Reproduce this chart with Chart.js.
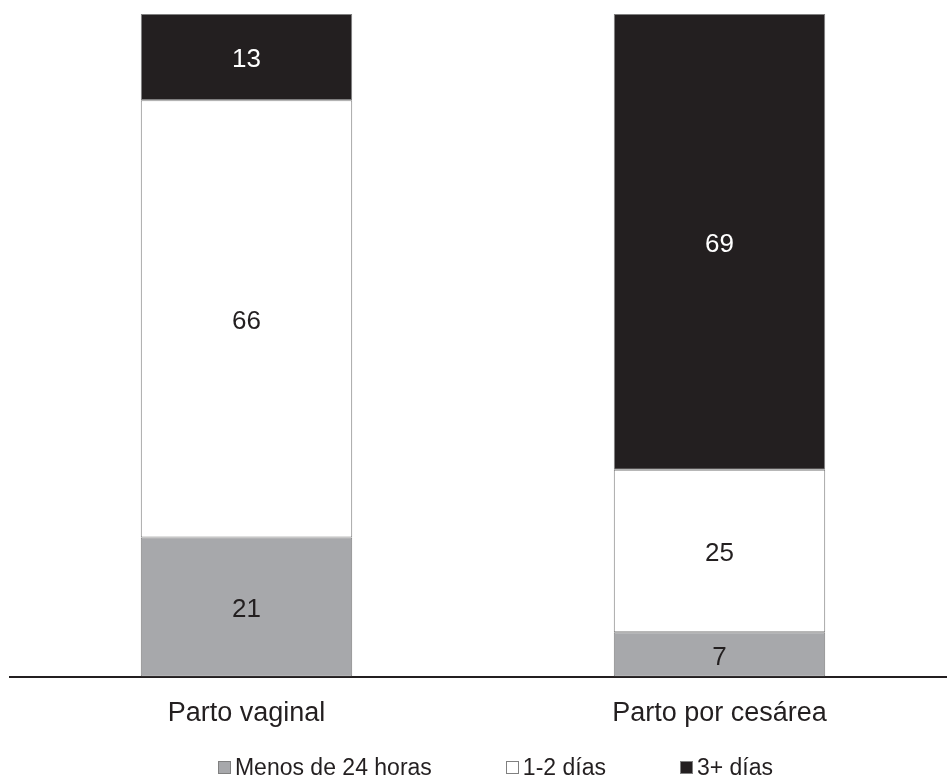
<!DOCTYPE html>
<html>
<head>
<meta charset="utf-8">
<script src="https://cdn.jsdelivr.net/npm/chart.js@4"></script>
<style>
    body { margin: 0; background: #fff; overflow: hidden; }
    #wrap { position: relative; width: 947px; height: 783px; overflow: hidden; }
    #legend { position: absolute; left: 0; width: 947px; top: 754px; padding-left: 44px; box-sizing: border-box;
              display: flex; justify-content: center;
              font-family: "Liberation Sans", Arial, sans-serif; font-size: 23px; color: #231f20; }
    #legend .item { display: flex; align-items: center; margin: 0 37px; }
    #legend .box { width: 13px; height: 13px; border: 1px solid #808080; margin-right: 4px; box-sizing: border-box; }
</style>
</head>
<body>
<div id="wrap">
    <canvas id="barChart" width="956" height="783"></canvas>
    <div id="legend"></div>
</div>
<script>
var categories = ["Parto vaginal", "Parto por cesárea"];
var seriesNames = ["Menos de 24 horas", "1-2 días", "3+ días"];
var menos24h = [21, 6.7];
var unoDosDias = [66, 24.5];
var tresMasDias = [13, 68.8];

var seriesColors = ["#a7a8ab", "#ffffff", "#231f20"];
var labelColors = ["#231f20", "#231f20", "#ffffff"];
var FONT = '"Liberation Sans", Arial, sans-serif';

// etiquetas de valor en el centro de cada segmento
var valueLabels = {
    id: "valueLabels",
    afterDatasetsDraw: function (chart) {
        var ctx = chart.ctx;
        ctx.save();
        ctx.font = "26px " + FONT;
        ctx.textAlign = "center";
        ctx.textBaseline = "middle";
        chart.data.datasets.forEach(function (ds, i) {
            chart.getDatasetMeta(i).data.forEach(function (bar, j) {
                ctx.fillStyle = labelColors[i];
                ctx.fillText(Math.round(ds.data[j]), bar.x, (bar.y + bar.base) / 2 + 3);
            });
        });
        ctx.restore();
    }
};

function buildDataset(i, values) {
    return {
        label: seriesNames[i],
        data: values,
        backgroundColor: seriesColors[i],
        borderColor: "#808080",
        borderWidth: 1,
        borderSkipped: false,
        barPercentage: 0.447,
        categoryPercentage: 1
    };
}

var data = {
    labels: categories,
    datasets: [
        buildDataset(0, menos24h),
        buildDataset(1, unoDosDias),
        buildDataset(2, tresMasDias)
    ]
};

var options = {
    responsive: false,
    animation: false,
    layout: { padding: { left: 10, right: 0, top: 14, bottom: 32 } },
    scales: {
        x: {
            stacked: true,
            grid: { display: false, drawTicks: false },
            border: { color: "#231f20", width: 2 },
            ticks: { color: "#231f20", padding: 21, font: { size: 27, family: FONT } }
        },
        y: { stacked: true, display: false, min: 0, max: 100 }
    },
    plugins: {
        legend: { display: false },
        tooltip: { enabled: false }
    }
};

var ctx = document.getElementById("barChart").getContext("2d");
new Chart(ctx, { type: "bar", data: data, options: options, plugins: [valueLabels] });

var legend = document.getElementById("legend");
seriesNames.forEach(function (name, i) {
    var item = document.createElement("div");
    item.className = "item";
    item.innerHTML = '<span class="box" style="background:' + seriesColors[i] + '"></span><span>' + name + '</span>';
    legend.appendChild(item);
});
</script>
</body>
</html>
